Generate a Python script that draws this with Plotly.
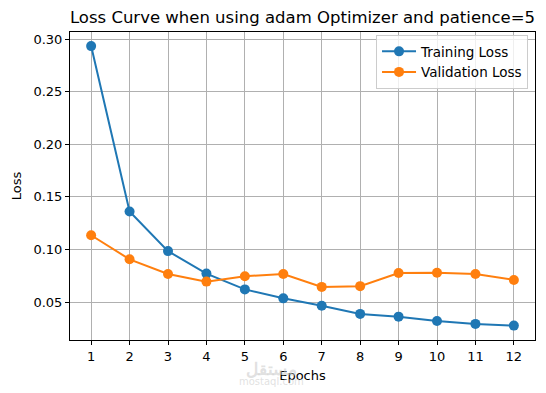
import plotly.graph_objects as go

epochs = [1, 2, 3, 4, 5, 6, 7, 8, 9, 10, 11, 12]
training_loss = [0.2933, 0.1361, 0.0984, 0.0770, 0.0620, 0.0535, 0.0465, 0.0387, 0.0361, 0.0320, 0.0292, 0.0276]
validation_loss = [0.1135, 0.0906, 0.0767, 0.0694, 0.0745, 0.0767, 0.0644, 0.0651, 0.0776, 0.0779, 0.0767, 0.0710]
y_ticks = [0.05, 0.10, 0.15, 0.20, 0.25, 0.30]
y_tick_labels = ["0.05", "0.10", "0.15", "0.20", "0.25", "0.30"]

font = "DejaVu Sans"

# page has an 8px body margin; figure is offset accordingly
W, H = 538, 385
OFF = 8

fig = go.Figure()
fig.add_trace(go.Scatter(x=epochs, y=training_loss, mode="lines+markers", name="Training Loss",
                         line=dict(color="#1f77b4", width=2), marker=dict(size=10, color="#1f77b4")))
fig.add_trace(go.Scatter(x=epochs, y=validation_loss, mode="lines+markers", name="Validation Loss",
                         line=dict(color="#ff7f0e", width=2), marker=dict(size=10, color="#ff7f0e")))

axis_common = dict(showline=True, linecolor="black", linewidth=1, mirror=True,
                   showgrid=True, gridcolor="#b0b0b0", gridwidth=1,
                   ticks="outside", ticklen=4, tickcolor="black", tickwidth=1,
                   zeroline=False, automargin=False,
                   tickfont=dict(family=font, size=13, color="black"))

fig.update_layout(
    width=W, height=H,
    paper_bgcolor="white", plot_bgcolor="white",
    margin=dict(l=70 - OFF, r=11, t=32 - OFF, b=53, autoexpand=False),
    title=dict(text="Loss Curve when using adam Optimizer and patience=5",
               x=((70 + 535) / 2 - OFF) / W, xanchor="center", y=1 - (17 - OFF) / H, yanchor="middle",
               font=dict(family=font, size=16.5, color="black")),
    xaxis=dict(range=[0.45, 12.55], tickvals=epochs, ticktext=[str(e) for e in epochs],
               title=dict(text="Epochs", font=dict(family=font, size=13, color="black"), standoff=8),
               **axis_common),
    yaxis=dict(range=[0.0139, 0.3067], tickvals=y_ticks, ticktext=y_tick_labels,
               title=dict(text="Loss", font=dict(family=font, size=13, color="black"), standoff=8),
               **axis_common),
    legend=dict(x=0.985, y=0.99, xanchor="right", yanchor="top",
                bgcolor="rgba(255,255,255,0.8)", bordercolor="#cccccc", borderwidth=1,
                font=dict(family=font, size=13.5, color="black"), itemwidth=34),
    showlegend=True,
)

# faint watermark below the x axis (paper coords relative to the plot area)
fig.add_annotation(text="<b>مستقل</b>", x=(271 - 70) / 465, y=(340 - 368) / 308,
                   xref="paper", yref="paper", showarrow=False, yanchor="middle",
                   font=dict(family="Noto Sans", size=17, color="rgba(200,200,200,0.55)"))
fig.add_annotation(text="mostaql.com", x=(271 - 70) / 465, y=(340 - 381) / 308,
                   xref="paper", yref="paper", showarrow=False, yanchor="middle",
                   font=dict(family="DejaVu Sans", size=10, color="rgba(200,200,200,0.55)"))

fig.write_html("out.html")
